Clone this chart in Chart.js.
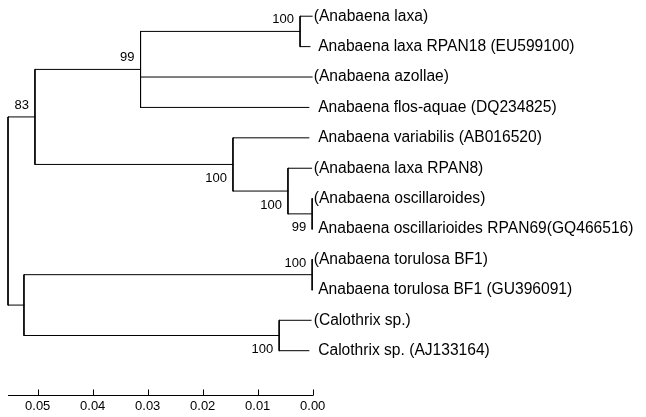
<!DOCTYPE html>
<html>
<head>
<meta charset="utf-8">
<script src="https://cdn.jsdelivr.net/npm/chart.js@4"></script>
<style>
    html, body { margin: 0; padding: 0; background: #fff; }
</style>
</head>
<body>
<canvas id="treeChart" width="646" height="417"></canvas>
<script>
// Nombres de las hojas (de arriba a abajo)
const taxa = [
    "(Anabaena laxa)",
    "Anabaena laxa RPAN18 (EU599100)",
    "(Anabaena azollae)",
    "Anabaena flos-aquae (DQ234825)",
    "Anabaena variabilis (AB016520)",
    "(Anabaena laxa RPAN8)",
    "(Anabaena oscillaroides)",
    "Anabaena oscillarioides RPAN69(GQ466516)",
    "(Anabaena torulosa BF1)",
    "Anabaena torulosa BF1 (GU396091)",
    "(Calothrix sp.)",
    "Calothrix sp. (AJ133164)",
];
// Distancia (eje x) donde termina cada hoja
const tipDepth = [0.0001, 0.0005, 0.0001, 0.0007, 0.0007, 0.0002, 0.0, 0.0, 0.0, 0.0, 0.0003, 0.0007];

// Nodos internos: hijos, distancia y valor bootstrap
const nodeChildren = [
    ["n1", "n7"],       // n0 raíz
    ["n2", "n4"],       // n1
    ["n3", "t2", "t3"], // n2
    ["t0", "t1"],       // n3
    ["t4", "n5"],       // n4
    ["t5", "n6"],       // n5
    ["t6", "t7"],       // n6
    ["n8", "n9"],       // n7
    ["t8", "t9"],       // n8
    ["t10", "t11"],     // n9
];
const nodeDepth = [0.0554, 0.0505, 0.0313, 0.0023, 0.0145, 0.0045, 0.0001, 0.0525, 0.0001, 0.0061];
const nodeSupport = [null, 83, 99, 100, 100, 100, 99, null, 100, 100];

// Marcas del eje de escala
const axisTicks = [0.05, 0.04, 0.03, 0.02, 0.01, 0.0];

const fontFamily = '"Liberation Sans", Arial, sans-serif';

// Devuelve la distancia de un nodo u hoja
const getDepth = (id) => {
    const idx = Number(id.slice(1));
    return id[0] === "t" ? tipDepth[idx] : nodeDepth[idx];
};

// Posición vertical: hojas por índice, nodos en el medio de sus hijos
const getY = (id) => {
    const idx = Number(id.slice(1));
    if (id[0] === "t") return idx;
    const kids = nodeChildren[idx];
    return (getY(kids[0]) + getY(kids[kids.length - 1])) / 2;
};

// Padre de cada nodo y si es el primer hijo (etiqueta arriba)
const parentInfo = {};
nodeChildren.forEach((kids, i) => {
    kids.forEach((k, j) => {
        parentInfo[k] = { parent: i, first: j === 0 };
    });
});

// Segmentos del árbol: una vertical por nodo y una horizontal por hijo
const segments = [];
nodeChildren.forEach((kids, i) => {
    const x = nodeDepth[i];
    const ys = kids.map(getY);
    segments.push([{ x: x, y: ys[0] }, { x: x, y: ys[ys.length - 1] }]);
    kids.forEach((k, j) => {
        segments.push([{ x: x, y: ys[j] }, { x: getDepth(k), y: ys[j] }]);
    });
});

const datasets = segments.map((seg) => ({
    data: seg,
    showLine: true,
    borderColor: "#000",
    borderWidth: 1,
    borderCapStyle: "square",
    pointRadius: 0,
    clip: false,
}));

// Plugin para los nombres, bootstrap y la línea del eje
const treeLabels = {
    id: "treeLabels",
    afterDatasetsDraw: (chart) => {
        const { ctx, scales: { x, y } } = chart;
        const x0 = x.getPixelForValue(0);
        const bottom = Math.round(chart.chartArea.bottom) + 0.5;
        ctx.save();
        ctx.fillStyle = "#000";
        ctx.textBaseline = "middle";

        ctx.font = "15.6px " + fontFamily;
        ctx.textAlign = "left";
        taxa.forEach((name, i) => {
            const offset = name.startsWith("(") ? 1 : 5.5;
            ctx.fillText(name, x0 + offset, y.getPixelForValue(i));
        });

        ctx.font = "13px " + fontFamily;
        ctx.textAlign = "right";
        nodeSupport.forEach((val, i) => {
            if (val === null) return;
            const info = parentInfo["n" + i];
            const py = y.getPixelForValue(getY("n" + i));
            const px = x.getPixelForValue(nodeDepth[i]) - 6;
            ctx.fillText(String(val), px, info.first ? py - 11.5 : py + 14);
        });

        // Línea del eje y marcas hacia arriba
        ctx.strokeStyle = "#000";
        ctx.lineWidth = 1;
        ctx.beginPath();
        ctx.moveTo(x.getPixelForValue(x.max), bottom);
        ctx.lineTo(x0 + 0.5, bottom);
        x.ticks.forEach((t) => {
            const px = Math.round(x.getPixelForValue(t.value)) + 0.5;
            ctx.moveTo(px, bottom);
            ctx.lineTo(px, bottom - 6);
        });
        ctx.stroke();
        ctx.restore();
    },
};

const ctx = document.getElementById("treeChart").getContext("2d");

const treeChart = new Chart(ctx, {
    type: "scatter",
    data: { datasets: datasets },
    plugins: [treeLabels],
    options: {
        responsive: false,
        animation: false,
        layout: {
            padding: { left: 8, right: 333.3, top: 1, bottom: 0 },
        },
        scales: {
            x: {
                type: "linear",
                reverse: true,
                min: 0,
                max: 0.0554,
                afterBuildTicks: (scale) => {
                    scale.ticks = axisTicks.map((v) => ({ value: v }));
                },
                grid: { display: false, drawTicks: false },
                border: { display: false },
                ticks: {
                    color: "#000",
                    padding: 3,
                    maxRotation: 0,
                    autoSkip: false,
                    font: { size: 13, family: fontFamily },
                    callback: (v) => Number(v).toFixed(2),
                },
            },
            y: {
                display: false,
                reverse: true,
                min: -0.5,
                max: 12.47,
            },
        },
        plugins: {
            legend: { display: false },
            tooltip: { enabled: false },
        },
    },
});
</script>
</body>
</html>
